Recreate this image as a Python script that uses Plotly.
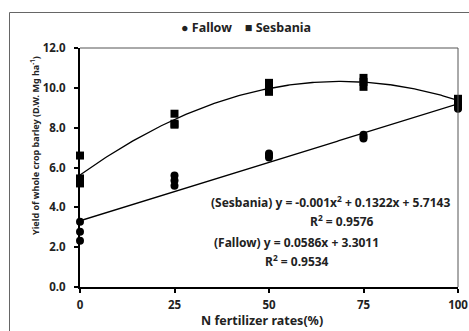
import numpy as np
import plotly.graph_objects as go

# ---- data ----
fallow_x = [0, 0, 0, 25, 25, 25, 50, 50, 50, 75, 75, 75, 100, 100, 100]
fallow_y = [3.27, 2.77, 2.32, 5.6, 5.35, 5.08, 6.7, 6.6, 6.5, 7.65, 7.55, 7.45, 9.1, 9.0, 8.95]
sesb_x = [0, 0, 0, 0, 25, 25, 25, 50, 50, 50, 75, 75, 75, 100, 100, 100]
sesb_y = [6.6, 5.45, 5.3, 5.2, 8.7, 8.2, 8.15, 10.25, 10.0, 9.8, 10.5, 10.3, 10.05, 9.45, 9.35, 9.3]
x_ticks = [0, 25, 50, 75, 100]
y_ticks = [0, 2, 4, 6, 8, 10, 12]
eq_sesb = "(Sesbania) y = -0.001x<sup>2</sup> + 0.1322x + 5.7143"
r2_sesb = "R<sup>2</sup> = 0.9576"
eq_fallow = "(Fallow) y = 0.0586x + 3.3011"
r2_fallow = "R<sup>2</sup> = 0.9534"

FONT = "Noto Sans"
W, H = 469, 331
ML, MR, MT, MB = 80, 11, 48, 44
PW, PH = W - ML - MR, H - MT - MB

def px_x(p):
    return (p - ML) / PW

def px_y(p):
    return (H - MB - p) / PH

def fnt(size, family=FONT):
    return dict(family=family, size=size, color="#222", weight="bold")

# trend lines fitted to the points
xs = np.linspace(0, 100, 201)
cs = np.polyfit(sesb_x, sesb_y, 2)
cf = np.polyfit(fallow_x, fallow_y, 1)

fig = go.Figure()
fig.add_trace(go.Scatter(x=xs, y=np.polyval(cs, xs), mode="lines",
                         line=dict(color="black", width=1.3), showlegend=False,
                         hoverinfo="skip"))
fig.add_trace(go.Scatter(x=xs, y=np.polyval(cf, xs), mode="lines",
                         line=dict(color="black", width=1.3), showlegend=False,
                         hoverinfo="skip"))
fig.add_trace(go.Scatter(x=fallow_x, y=fallow_y, mode="markers", name="Fallow",
                         marker=dict(symbol="circle", size=8, color="black"),
                         cliponaxis=False, showlegend=False))
fig.add_trace(go.Scatter(x=sesb_x, y=sesb_y, mode="markers", name="Sesbania",
                         marker=dict(symbol="square", size=8, color="black"),
                         cliponaxis=False, showlegend=False))

fig.update_xaxes(range=[0, 100], tickvals=x_ticks, ticks="outside", ticklen=4,
                 tickwidth=2, tickcolor="black", showline=True, linewidth=2,
                 linecolor="black", showgrid=False, zeroline=False,
                 tickfont=fnt(11.5), automargin=False, ticklabelstandoff=2)
fig.update_yaxes(range=[0, 12], tickvals=y_ticks, tickformat=".1f",
                 ticks="outside", ticklen=4, tickwidth=2, tickcolor="black",
                 showline=True, linewidth=2, linecolor="black", showgrid=False,
                 zeroline=False, tickfont=fnt(11.5), automargin=False,
                 ticklabelstandoff=6)

anns = [
    dict(x=px_x(452), y=px_y(202), text=eq_sesb, xanchor="right", font=fnt(12)),
    dict(x=px_x(342), y=px_y(221), text=r2_sesb, font=fnt(12)),
    dict(x=px_x(212), y=px_y(242), text=eq_fallow, xanchor="left", font=fnt(12)),
    dict(x=px_x(297), y=px_y(261), text=r2_fallow, font=fnt(12)),
    dict(x=px_x(262), y=px_y(320), text="N fertilizer rates(%)", font=fnt(12.5)),
    dict(x=px_x(246), y=px_y(27), text="● Fallow    ■ Sesbania", font=fnt(12.5)),
    dict(x=px_x(35), y=px_y(146),
         text="Yield of whole crop barley (D.W. Mg ha<sup>-1</sup>)",
         textangle=-90, font=fnt(9)),
]
for a in anns:
    a.setdefault("xanchor", "center")
    fig.add_annotation(xref="paper", yref="paper", showarrow=False,
                       yanchor="middle", **a)

# outer frame and thin top/right plot borders
fig.add_shape(type="rect", xref="paper", yref="paper",
              x0=px_x(9.5), x1=px_x(472), y0=px_y(335), y1=px_y(12.5),
              line=dict(color="#666", width=1), layer="below")
fig.add_shape(type="line", xref="paper", yref="paper", x0=0, x1=1, y0=1, y1=1,
              line=dict(color="#555", width=1))
fig.add_shape(type="line", xref="paper", yref="paper", x0=1, x1=1, y0=0, y1=1,
              line=dict(color="#555", width=1))

fig.update_layout(width=W, height=H, autosize=False,
                  margin=dict(l=ML, r=MR, t=MT, b=MB, autoexpand=False),
                  plot_bgcolor="white", paper_bgcolor="white",
                  font=dict(family=FONT))
fig.write_html("out.html",
               config={"displayModeBar": False, "responsive": False},
               post_script="document.body.style.margin='0';document.body.style.overflow='hidden';")
